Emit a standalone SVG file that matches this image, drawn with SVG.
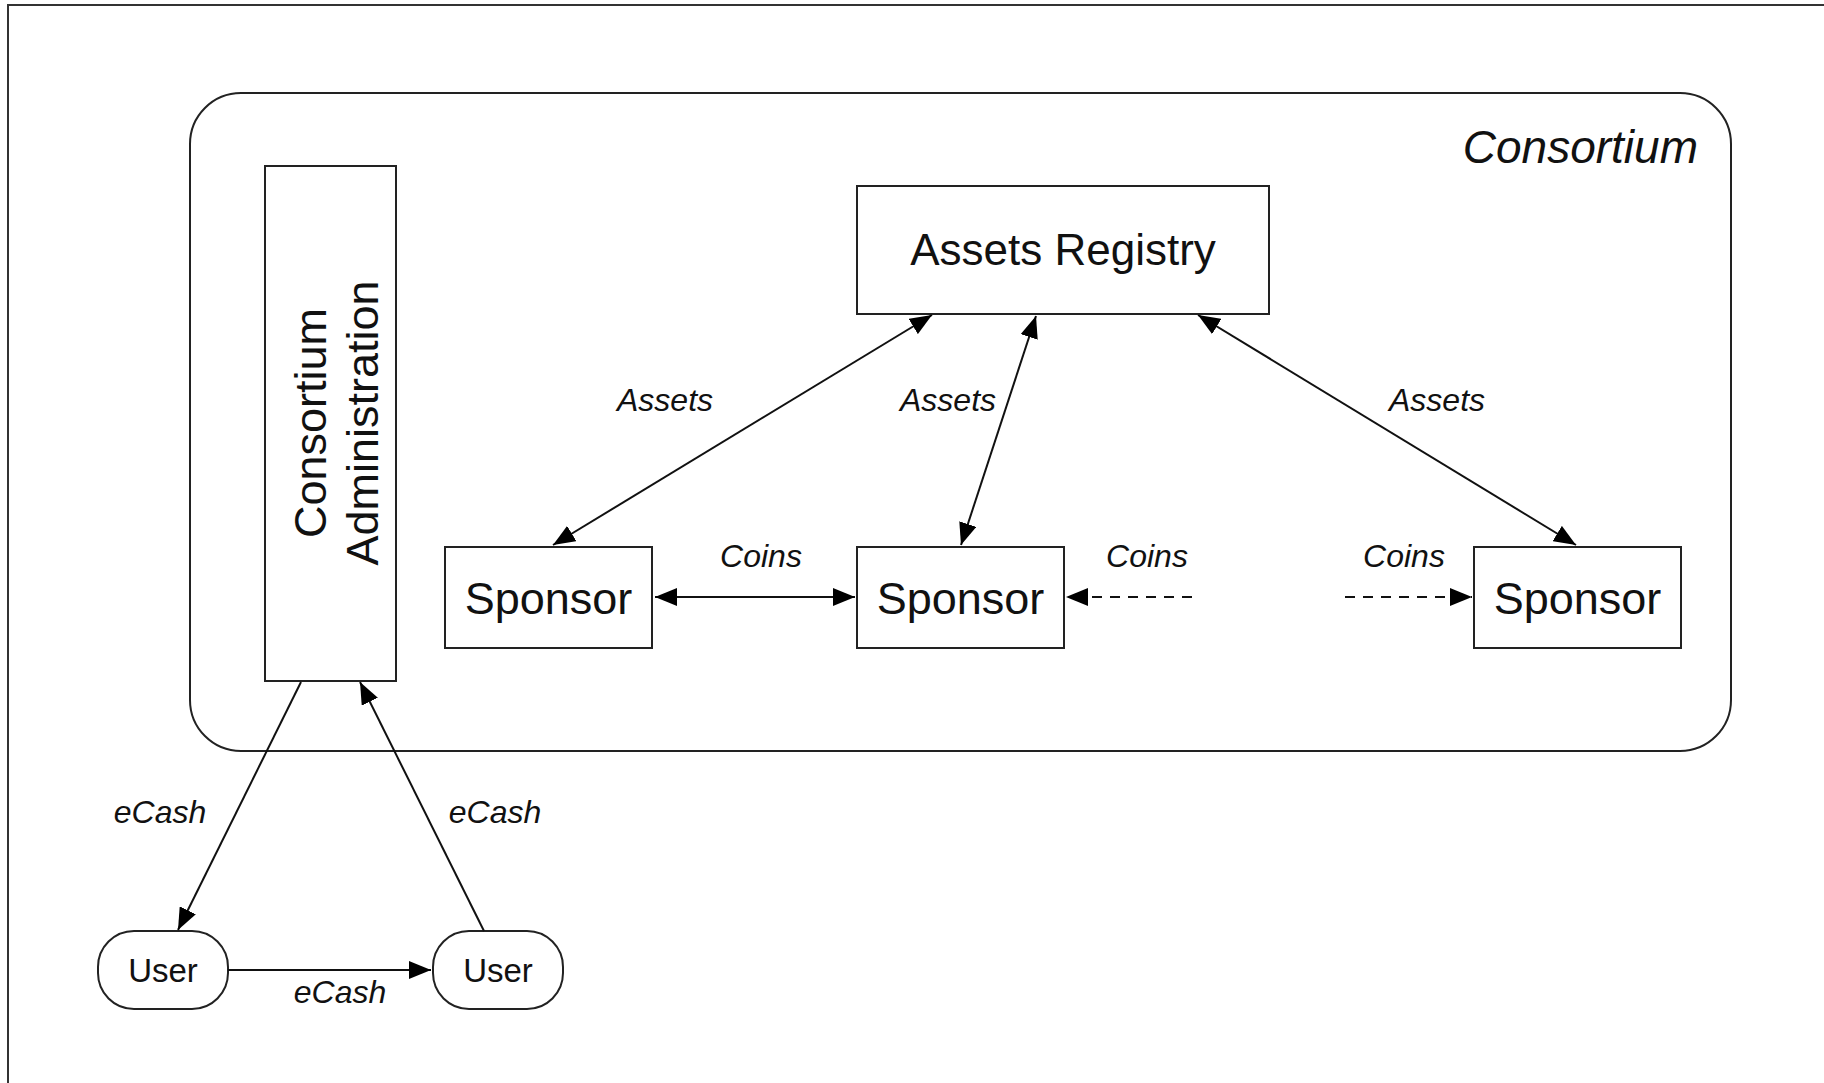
<svg xmlns="http://www.w3.org/2000/svg" width="1824" height="1083" viewBox="0 0 1824 1083">
<style>
.box{fill:#fff;stroke:#222;stroke-width:2}
.ln{fill:none;stroke:#111;stroke-width:2}
.dash{fill:none;stroke:#111;stroke-width:2;stroke-dasharray:10 8}
.t{font-family:"Liberation Sans",Arial,sans-serif;fill:#111}
.big{font-size:45px}
.lbl{font-size:32px;font-style:italic}
.usr{font-size:33px}
</style>
<defs>
<marker id="ah" markerUnits="userSpaceOnUse" markerWidth="22" markerHeight="18" refX="22" refY="9" orient="auto-start-reverse" viewBox="0 0 22 18">
<path d="M0,0 L22,9 L0,18 z" fill="#000"/>
</marker>
</defs>
<rect width="1824" height="1083" fill="#fff"/>
<rect x="8" y="5" width="1840" height="1100" fill="none" stroke="#333" stroke-width="2"/>
<g id="consortium">
<rect x="190" y="93" width="1541" height="658" rx="51" ry="51" class="box" fill="none"/>
<text class="t" x="1698" y="163" text-anchor="end" font-size="46" font-style="italic">Consortium</text>
</g>
<g id="admin">
<rect x="265" y="166" width="131" height="515" class="box"/>
<text class="t big" transform="translate(326,423) rotate(-90)" text-anchor="middle">Consortium</text>
<text class="t big" transform="translate(378,423) rotate(-90)" text-anchor="middle">Administration</text>
</g>
<g id="registry">
<rect x="857" y="186" width="412" height="128" class="box"/>
<text class="t" x="1063" y="265" text-anchor="middle" font-size="44">Assets Registry</text>
</g>
<g id="sponsor1">
<rect x="445" y="547" width="207" height="101" class="box"/>
<text class="t big" x="548.5" y="614" text-anchor="middle">Sponsor</text>
</g>
<g id="sponsor2">
<rect x="857" y="547" width="207" height="101" class="box"/>
<text class="t big" x="960.5" y="614" text-anchor="middle">Sponsor</text>
</g>
<g id="sponsor3">
<rect x="1474" y="547" width="207" height="101" class="box"/>
<text class="t big" x="1577.5" y="614" text-anchor="middle">Sponsor</text>
</g>
<g id="user1">
<rect x="98" y="931" width="130" height="78" rx="36" ry="36" class="box"/>
<text class="t usr" x="163" y="982" text-anchor="middle">User</text>
</g>
<g id="user2">
<rect x="433" y="931" width="130" height="78" rx="36" ry="36" class="box"/>
<text class="t usr" x="498" y="982" text-anchor="middle">User</text>
</g>
<g id="connectors">
<line x1="932" y1="315" x2="553" y2="545" class="ln" marker-start="url(#ah)" marker-end="url(#ah)"/>
<line x1="1036" y1="316" x2="961" y2="545" class="ln" marker-start="url(#ah)" marker-end="url(#ah)"/>
<line x1="1198" y1="315" x2="1576" y2="545" class="ln" marker-start="url(#ah)" marker-end="url(#ah)"/>
<line x1="655" y1="597" x2="855" y2="597" class="ln" marker-start="url(#ah)" marker-end="url(#ah)"/>
<line x1="1192" y1="597" x2="1066" y2="597" class="dash" marker-end="url(#ah)"/>
<line x1="1345" y1="597" x2="1472" y2="597" class="dash" marker-end="url(#ah)"/>
<line x1="301" y1="682" x2="178" y2="930" class="ln" marker-end="url(#ah)"/>
<line x1="484" y1="931" x2="360" y2="682" class="ln" marker-end="url(#ah)"/>
<line x1="228" y1="970" x2="431" y2="970" class="ln" marker-end="url(#ah)"/>
<text class="t lbl" x="665" y="411" text-anchor="middle">Assets</text>
<text class="t lbl" x="948" y="411" text-anchor="middle">Assets</text>
<text class="t lbl" x="1437" y="411" text-anchor="middle">Assets</text>
<text class="t lbl" x="761" y="567" text-anchor="middle">Coins</text>
<text class="t lbl" x="1147" y="567" text-anchor="middle">Coins</text>
<text class="t lbl" x="1404" y="567" text-anchor="middle">Coins</text>
<text class="t lbl" x="160" y="823" text-anchor="middle">eCash</text>
<text class="t lbl" x="495" y="823" text-anchor="middle">eCash</text>
<text class="t lbl" x="340" y="1003" text-anchor="middle">eCash</text>
</g>
</svg>
